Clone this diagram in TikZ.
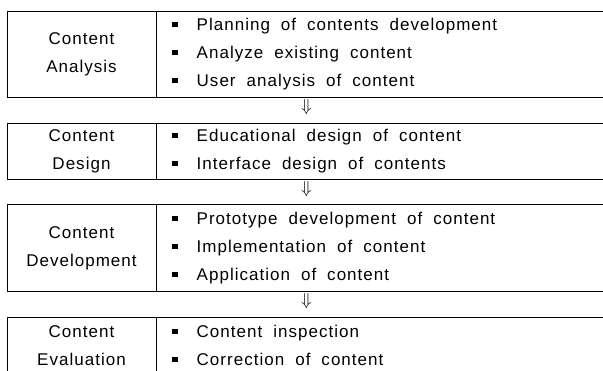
\documentclass[tikz,border=0pt]{standalone}
\usepackage{fontspec}
\setmainfont{Liberation Sans}[LetterSpace=6]
\usetikzlibrary{positioning}
\newcommand{\sqbullet}{\raisebox{3.3pt}{\rule{5.3pt}{5.3pt}}\hspace{19pt}}

\begin{document}
\begin{tikzpicture}[x=1pt, y=1pt, line width=0.8pt,
  font=\fontsize{17}{28}\selectfont,
  every node/.append style={execute at begin node={\spaceskip=11pt plus 1pt\xspaceskip=11pt plus 1pt\relax}},
  stagename/.style={draw, rectangle, anchor=north west, minimum width=148.8pt,
    align=center, inner sep=0pt},
  stageitems/.style={draw, rectangle, anchor=north west, minimum width=460pt,
    text width=427pt, align=left, inner xsep=16.5pt, inner ysep=0pt},
  flowarrow/.style={inner sep=0pt, font=\fontsize{19}{19}\selectfont}]
  \clip (0,0) rectangle (603,-371);
  % stage 1
  \node[stagename, minimum height=86pt] (ana) at (6.7,-11) {Content\\Analysis};
  \node[stageitems, minimum height=86pt] (anaitems) at (155.5,-11)
    {\sqbullet Planning of contents development\\
     \sqbullet Analyze existing content\\
     \sqbullet User analysis of content};
  % stage 2
  \node[stagename, minimum height=56pt] (des) at (6.7,-123) {Content\\Design};
  \node[stageitems, minimum height=56pt] (desitems) at (155.5,-123)
    {\sqbullet Educational design of content\\
     \sqbullet Interface design of contents};
  % stage 3
  \node[stagename, minimum height=87pt] (dev) at (6.7,-204) {Content\\Development};
  \node[stageitems, minimum height=87pt] (devitems) at (155.5,-204)
    {\sqbullet Prototype development of content\\
     \sqbullet Implementation of content\\
     \sqbullet Application of content};
  % stage 4
  \node[stagename, minimum height=56pt] (eva) at (6.7,-317) {Content\\Evaluation};
  \node[stageitems, minimum height=56pt] (evaitems) at (155.5,-317)
    {\sqbullet Content inspection\\
     \sqbullet Correction of content};
  % arrows between stages
  \node[flowarrow] (arr1) at (306.5,-107.5) {$\Downarrow$};
  \node[flowarrow] (arr2) at (306.5,-189.5) {$\Downarrow$};
  \node[flowarrow] (arr3) at (306.5,-301.5) {$\Downarrow$};
\end{tikzpicture}
\end{document}
